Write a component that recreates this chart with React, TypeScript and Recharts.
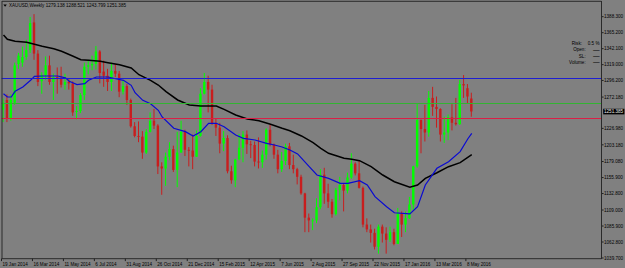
import React from 'react';
import { ComposedChart, Bar, Line, XAxis, YAxis, ReferenceLine } from 'recharts';

// ---------- data ----------
const dateLabels = [
  '19 Jan 2014', '16 Mar 2014', '11 May 2014', '6 Jul 2014', '31 Aug 2014', '26 Oct 2014',
  '21 Dec 2014', '15 Feb 2015', '12 Apr 2015', '7 Jun 2015', '2 Aug 2015', '27 Sep 2015',
  '22 Nov 2015', '17 Jan 2016', '13 Mar 2016', '8 May 2016',
];
const labelBars = [0, 8, 16, 24, 32, 40, 48, 56, 64, 72, 80, 88, 96, 104, 112, 120];

const opens = [
  1254, 1268, 1242, 1264, 1320, 1322, 1330, 1340, 1380, 1335,
  1295, 1304, 1318, 1294, 1301, 1300, 1290, 1294, 1292, 1251,
  1252, 1275, 1316, 1318, 1320, 1338, 1309, 1303, 1294, 1310,
  1306, 1280, 1288, 1268, 1230, 1216, 1215, 1192, 1222, 1238,
  1231, 1172, 1169, 1186, 1197, 1167, 1192, 1222, 1196, 1195,
  1186, 1216, 1277, 1294, 1283, 1234, 1228, 1205, 1213, 1165,
  1152, 1182, 1199, 1218, 1204, 1203, 1179, 1178, 1189, 1225,
  1204, 1189, 1168, 1180, 1201, 1174, 1168, 1157, 1133, 1098,
  1094, 1094, 1113, 1160, 1133, 1121, 1103, 1138, 1145, 1137,
  1156, 1176, 1162, 1141, 1088, 1081, 1076, 1056, 1085, 1075,
  1066, 1077, 1060, 1104, 1088, 1097, 1117, 1172, 1239, 1226,
  1221, 1271, 1258, 1255, 1218, 1221, 1243, 1235, 1233, 1291,
  1285, 1270.1,
];
const highs = [
  1270, 1276, 1276, 1322, 1336, 1345, 1355, 1388, 1392, 1340,
  1308, 1331, 1332, 1306, 1315, 1316, 1306, 1298, 1295, 1259,
  1278, 1322, 1326, 1332, 1346, 1340, 1325, 1313, 1322, 1320,
  1310, 1296, 1291, 1270, 1236, 1237, 1223, 1226, 1250, 1255,
  1233, 1178, 1192, 1207, 1202, 1222, 1238, 1225, 1200, 1218,
  1224, 1285, 1307, 1303, 1290, 1241, 1235, 1223, 1217, 1173,
  1183, 1219, 1223, 1224, 1209, 1208, 1214, 1195, 1227, 1232,
  1205, 1196, 1193, 1205, 1206, 1189, 1170, 1160, 1134, 1104,
  1097, 1126, 1168, 1170, 1147, 1125, 1141, 1157, 1147, 1163,
  1191, 1178, 1180, 1143, 1097, 1088, 1082, 1088, 1088, 1084,
  1085, 1082, 1112, 1107, 1107, 1128, 1173, 1263, 1240, 1261,
  1281, 1287, 1273, 1256, 1244, 1247, 1262, 1271, 1297, 1304,
  1291, 1278.5,
];
const lows = [
  1236, 1236, 1238, 1261, 1313, 1316, 1326, 1336, 1326, 1288,
  1277, 1297, 1290, 1268, 1277, 1286, 1283, 1283, 1245, 1240,
  1249, 1268, 1305, 1311, 1312, 1292, 1287, 1281, 1281, 1301,
  1272, 1276, 1261, 1228, 1214, 1207, 1183, 1190, 1221, 1226,
  1161, 1131, 1144, 1181, 1164, 1142, 1192, 1187, 1172, 1168,
  1186, 1215, 1276, 1250, 1232, 1216, 1191, 1194, 1162, 1147,
  1142, 1181, 1178, 1190, 1184, 1172, 1169, 1170, 1182, 1201,
  1183, 1162, 1164, 1174, 1168, 1162, 1146, 1131, 1077, 1077,
  1080, 1090, 1110, 1118, 1112, 1098, 1101, 1123, 1107, 1133,
  1154, 1159, 1140, 1084, 1077, 1062, 1052, 1046, 1062, 1046,
  1063, 1058, 1060, 1070, 1077, 1096, 1109, 1170, 1191, 1208,
  1215, 1245, 1228, 1208, 1206, 1210, 1224, 1231, 1232, 1271,
  1263, 1243.8,
];
const closes = [
  1264, 1242, 1268, 1318, 1332, 1330, 1340, 1379, 1335, 1294,
  1304, 1318, 1294, 1301, 1300, 1290, 1294, 1292, 1250, 1252,
  1275, 1316, 1318, 1320, 1338, 1307, 1303, 1294, 1310, 1306,
  1280, 1288, 1268, 1230, 1216, 1215, 1192, 1222, 1238, 1231,
  1172, 1169, 1186, 1197, 1167, 1192, 1222, 1196, 1195, 1186,
  1216, 1277, 1294, 1283, 1234, 1228, 1205, 1213, 1165, 1152,
  1182, 1199, 1218, 1204, 1203, 1179, 1178, 1189, 1225, 1204,
  1189, 1168, 1180, 1201, 1174, 1168, 1157, 1133, 1098, 1094,
  1094, 1113, 1160, 1133, 1121, 1103, 1138, 1145, 1137, 1156,
  1176, 1162, 1141, 1088, 1081, 1076, 1056, 1085, 1075, 1066,
  1077, 1060, 1104, 1088, 1097, 1117, 1172, 1239, 1226, 1221,
  1271, 1258, 1255, 1218, 1221, 1243, 1235, 1233, 1291, 1289,
  1273, 1251.385,
];

// moving averages: [bar index, price]
const maSlowPts: [number, number][] = [
  [0, 1362], [1, 1355.6], [3, 1352.8], [6, 1351.3], [8, 1348.4], [10, 1345.5], [13, 1342.1],
  [15, 1338.3], [18, 1331.1], [20, 1326.2], [22, 1325.3], [25, 1323.9], [27, 1321.8], [30, 1318.9],
  [33, 1314.2], [35, 1304.5], [38, 1296.4], [40, 1289.6], [42, 1280], [45, 1268], [48, 1260.7],
  [51, 1259.3], [55, 1259.3], [57, 1254.5], [60, 1246.3], [63, 1240.5], [66, 1238.1], [69, 1232.8],
  [72, 1227.1], [74, 1223.6], [77, 1216], [80, 1206.3], [82, 1198.2], [84, 1191], [88, 1183.7],
  [90, 1182.3], [92, 1180.3], [95, 1171.6], [98, 1159.6], [101, 1149.9], [105, 1141.8],
  [107, 1145.1], [109, 1154.8], [112, 1162.9], [115, 1171.6], [118, 1177.4], [121, 1189],
];
const maFastPts: [number, number][] = [
  [0, 1277], [1, 1272.3], [2, 1272.3], [3, 1280.5], [5, 1286.7], [7, 1296.4], [8, 1302.2],
  [10, 1302.6], [14, 1302.6], [16, 1300], [17, 1295], [19, 1290.1], [21, 1291.5], [22, 1296.4],
  [24, 1301.2], [27, 1301.2], [29, 1298.7], [31, 1296.4], [33, 1289.2], [34, 1278.5], [36, 1267.5],
  [38, 1262.6], [40, 1253.1], [41, 1243.4], [44, 1227.1], [47, 1222.2], [49, 1216], [51, 1222.2],
  [53, 1234.3], [55, 1234.3], [57, 1229.4], [60, 1217.4], [62, 1212.6], [65, 1210.2], [68, 1205.4],
  [70, 1203], [72, 1200], [74, 1195.7], [76, 1190], [79, 1171.6], [81, 1159.6], [84, 1154.8],
  [87, 1147.6], [89, 1147.6], [92, 1151.4], [94, 1145.2], [96, 1128.3], [99, 1113.8], [101, 1105.1],
  [105, 1103.3], [107, 1113.8], [109, 1145.2], [112, 1169.3], [115, 1178.8], [118, 1193.3],
  [120, 1212], [121, 1219.8],
];

const yTicks = [
  1388.3, 1365.2, 1342.1, 1319.0, 1296.2, 1272.18, 1226.98, 1203.18, 1179.08, 1155.9,
  1132.8, 1109.0, 1085.9, 1062.8, 1039.7,
];
const levelBlue = 1299.0;
const levelGreen = 1262.9;
const levelRed = 1241.2;
const lastPrice = 1251.385;
const headerText = 'XAUUSD,Weekly  1279.138 1288.521 1243.799 1251.385';
const SLOTS = 155;

// ---------- table ----------
type Row = {
  i: number; o: number | null; h: number | null; l: number | null; c: number | null;
  range: [number, number] | null; fast: number | null; slow: number | null;
};
const data: Row[] = Array.from({ length: SLOTS }, (_, i) => {
  const has = i < opens.length;
  return {
    i,
    o: has ? opens[i] : null,
    h: has ? highs[i] : null,
    l: has ? lows[i] : null,
    c: has ? closes[i] : null,
    range: has ? [lows[i], highs[i]] : null,
    fast: null,
    slow: null,
  };
});
maFastPts.forEach(([i, v]) => { data[i].fast = v; });
maSlowPts.forEach(([i, v]) => { data[i].slow = v; });
const labelMap: Record<number, string> = {};
labelBars.forEach((b, k) => { labelMap[b] = dateLabels[k]; });

const FONT = '"Liberation Sans", Arial, sans-serif';
const UP = '#00ff00';
const DOWN = '#c81e1e';

const Candle = (props: any) => {
  const { x, y, width, height, payload } = props;
  if (!payload || payload.o == null || height == null) return null;
  const { o, h, l, c } = payload;
  const cx = x + width / 2;
  const span = h - l;
  const k = span > 0 ? height / span : 0;
  const yO = y + (h - o) * k;
  const yC = y + (h - c) * k;
  const color = c >= o ? UP : DOWN;
  const top = Math.min(yO, yC);
  const bh = Math.max(Math.abs(yC - yO), 0.9);
  return (
    <g>
      <line x1={cx} x2={cx} y1={y} y2={y + height} stroke={color} strokeWidth={1} />
      <rect x={cx - 1.2} y={top} width={2.4} height={bh} fill={color} />
    </g>
  );
};

const XTick = (props: any) => {
  const { x, y, payload } = props;
  const label = labelMap[payload.value];
  if (!label) return null;
  return (
    <g>
      <line x1={x - 2} x2={x - 2} y1={y} y2={y + 2.6} stroke="#202020" strokeWidth={1} />
      <text x={x - 1} y={y + 7.6} fontSize={4.6} fontFamily={FONT} fill="#000">{label}</text>
    </g>
  );
};

const YTick = (props: any) => {
  const { x, y, payload } = props;
  return (
    <g>
      <line x1={x} x2={x + 2.2} y1={y} y2={y} stroke="#202020" strokeWidth={1} />
      <text x={x + 2.6} y={y + 1.7} fontSize={4.6} fontFamily={FONT} fill="#000">
        {Number(payload.value).toFixed(3)}
      </text>
    </g>
  );
};

const PriceBox = (props: any) => {
  const vb = props.viewBox || {};
  const right = (vb.x || 0) + (vb.width || 0);
  const y = vb.y || 0;
  return (
    <g>
      <rect x={right + 1.8} y={y - 2.7} width={21.2} height={5.6} fill="#000" />
      <text x={right + 2.6} y={y + 1.7} fontSize={4.6} fontFamily={FONT} fill="#e8e8e8">
        {lastPrice.toFixed(3)}
      </text>
    </g>
  );
};

export default function App() {
  return (
    <div style={{ position: 'absolute', left: 0, top: 0, width: 625, height: 268, background: '#808080' }}>
      <ComposedChart
        width={625}
        height={268}
        data={data}
        margin={{ top: 1.3, left: 1.56, right: 0, bottom: 0 }}
        barCategoryGap={0}
      >
        <XAxis
          dataKey="i"
          type="category"
          ticks={labelBars}
          interval={0}
          height={9.5}
          tickSize={0}
          tickMargin={0}
          axisLine={false}
          tickLine={false}
          tick={<XTick />}
        />
        <YAxis
          orientation="right"
          type="number"
          width={23.6}
          domain={[1038.97, 1410.55]}
          allowDataOverflow
          ticks={yTicks}
          interval={0}
          tickSize={0}
          tickMargin={0}
          axisLine={false}
          tickLine={false}
          tick={<YTick />}
        />
        <Bar dataKey="range" barSize={3} shape={<Candle />} isAnimationActive={false} />
        <Line dataKey="slow" type="linear" stroke="#000000" strokeWidth={1.5} dot={false}
          connectNulls isAnimationActive={false} />
        <Line dataKey="fast" type="linear" stroke="#0a0ad2" strokeWidth={1.2} dot={false}
          connectNulls isAnimationActive={false} />
        <ReferenceLine key="lvl-blue" y={levelBlue} stroke="#1e1ed2" strokeWidth={1} ifOverflow="visible" />
        <ReferenceLine key="lvl-red" y={levelRed} stroke="#dc1e46" strokeWidth={1} ifOverflow="visible" />
        <ReferenceLine key="lvl-last" y={lastPrice} stroke="none" label={<PriceBox />} ifOverflow="visible" />
        <ReferenceLine key="lvl-green" y={levelGreen} stroke="#32b432" strokeWidth={1} ifOverflow="visible" />
      </ComposedChart>
      <svg width={625} height={268} style={{ position: 'absolute', left: 0, top: 0, pointerEvents: 'none' }}>
        <line x1={2} x2={2} y1={1} y2={259} stroke="#2a2a2a" strokeWidth={1} />
        <line x1={601.5} x2={601.5} y1={1} y2={259} stroke="#2a2a2a" strokeWidth={1} />
        <line x1={2} x2={601.5} y1={1.3} y2={1.3} stroke="#2a2a2a" strokeWidth={1} />
        <line x1={2} x2={601.5} y1={258.7} y2={258.7} stroke="#2a2a2a" strokeWidth={1} />
        <path d="M3.4 4.6 L6.8 4.6 L5.1 6.8 Z" fill="#000" />
        <text x={9} y={7} fontSize={4.8} fontFamily={FONT} fill="#000" textLength={117} lengthAdjust="spacingAndGlyphs">{headerText}</text>
        <text x={582} y={45.4} fontSize={4.6} fontFamily={FONT} fill="#000" textAnchor="end">Risk:</text>
        <text x={599.5} y={45.4} fontSize={4.6} fontFamily={FONT} fill="#000" textAnchor="end">0.5 %</text>
        <text x={585.7} y={51.4} fontSize={4.6} fontFamily={FONT} fill="#000" textAnchor="end">Open:</text>
        <text x={585.7} y={57.7} fontSize={4.6} fontFamily={FONT} fill="#000" textAnchor="end">SL:</text>
        <text x={585.7} y={63.7} fontSize={4.6} fontFamily={FONT} fill="#000" textAnchor="end">Volume:</text>
        <text x={599.5} y={52.4} fontSize={6.6} fontFamily={FONT} fill="#000" textAnchor="end">—</text>
        <text x={599.5} y={58.4} fontSize={6.6} fontFamily={FONT} fill="#000" textAnchor="end">—</text>
        <text x={599.5} y={64.4} fontSize={6.6} fontFamily={FONT} fill="#000" textAnchor="end">—</text>
      </svg>
    </div>
  );
}
